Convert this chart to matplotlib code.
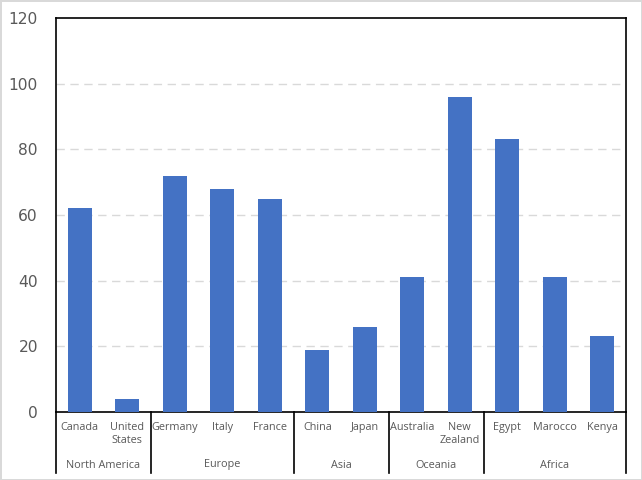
import matplotlib
matplotlib.use("Agg")
import matplotlib.pyplot as plt
import matplotlib.transforms as mtransforms

# ---------------------------------------------------------------------------
# Data
# ---------------------------------------------------------------------------
countries = ["Canada", "United\nStates", "Germany", "Italy", "France",
             "China", "Japan", "Australia", "New\nZealand",
             "Egypt", "Marocco", "Kenya"]
values = [62, 4, 72, 68, 65, 19, 26, 41, 96, 83, 41, 23]
regions = ["North America", "Europe", "Asia", "Oceania", "Africa"]
region_sizes = [2, 3, 2, 2, 3]
y_ticks = [0, 20, 40, 60, 80, 100, 120]

BAR_COLOR = "#4472C4"
TEXT_COLOR = "#595959"
GRID_COLOR = "#D9D9D9"

fig = plt.figure(figsize=(6.42, 4.8), dpi=100)
fig.patch.set_edgecolor(GRID_COLOR)
fig.patch.set_linewidth(2)

W, H = 642, 480
ax = fig.add_axes([56 / W, (H - 412) / H, 570 / W, 394 / H])

xs = list(range(len(countries)))
ax.bar(xs, values, width=0.5, color=BAR_COLOR, zorder=3)

ax.set_xlim(-0.5, len(countries) - 0.5)
ax.set_ylim(0, 120)
ax.set_yticks(y_ticks)
ax.set_yticklabels([str(t) for t in y_ticks], fontsize=11.2, color=TEXT_COLOR)
ax.tick_params(axis="y", length=0, pad=13)
ax.set_xticks([])

for t in y_ticks[1:-1]:
    ax.axhline(t, color=GRID_COLOR, linestyle=(0, (6, 4)), linewidth=1, zorder=1)

for s in ax.spines.values():
    s.set_color("black")
    s.set_linewidth(1.2)

# two-level category axis
trans = mtransforms.blended_transform_factory(ax.transData, ax.transAxes)
px = 1 / 394  # one pixel in axes fraction (vertical)
for x, name in zip(xs, countries):
    ax.text(x, -10 * px, name, transform=trans, ha="center", va="top",
            fontsize=7.8, color=TEXT_COLOR, family="Open Sans", linespacing=1.3)

start = -0.5
ax.plot([start, start], [0, -61 * px], transform=trans, color="black",
        lw=1.2, clip_on=False)
for name, n in zip(regions, region_sizes):
    end = start + n
    ax.plot([end, end], [0, -61 * px], transform=trans, color="black",
            lw=1.2, clip_on=False)
    ax.text((start + end) / 2, -53 * px, name, transform=trans, ha="center",
            va="center", fontsize=7.8, color=TEXT_COLOR, family="Open Sans")
    start = end

fig.savefig("out.png", dpi=100, edgecolor=fig.get_edgecolor())
